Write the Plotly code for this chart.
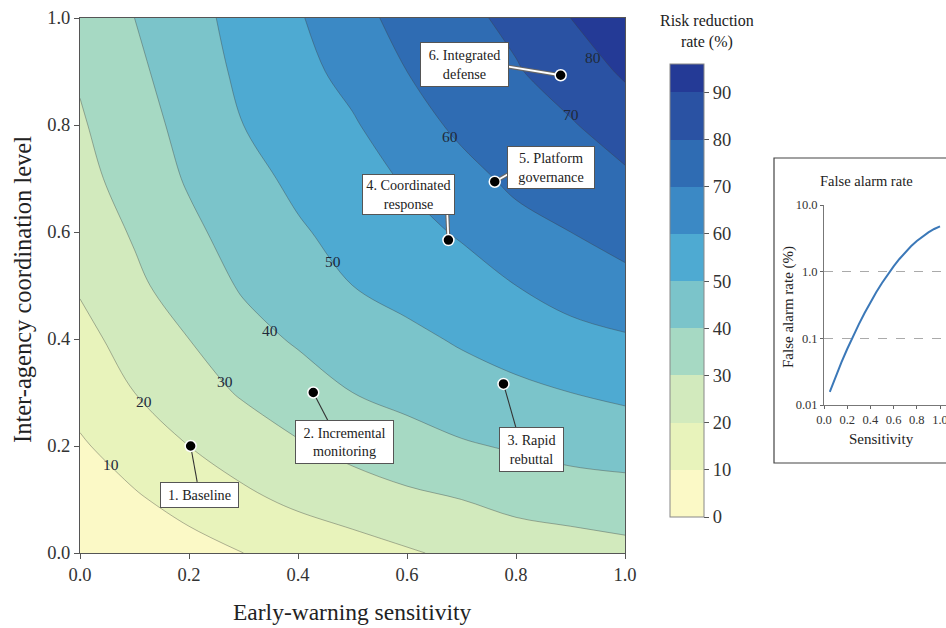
import plotly.graph_objects as go

W, H = 946, 628
FONT = "Liberation Serif"

# ---------------- data ----------------
grid_x = [0.0, 0.1, 0.2, 0.3, 0.4, 0.5, 0.6, 0.7, 0.8, 0.9, 1.0]
grid_y = [0.0, 0.1, 0.2, 0.3, 0.4, 0.5, 0.6, 0.7, 0.8, 0.9, 1.0]
risk_y00 = [1, 4, 7, 10, 13, 16, 19, 22, 24, 25, 27]
risk_y01 = [5, 9, 13, 18, 22, 25, 28, 30, 33, 35, 36]
risk_y02 = [9, 14, 20, 25, 29, 33, 36, 39, 41, 43, 44]
risk_y03 = [13, 20, 26, 31, 36, 40, 43, 46, 48, 50, 52]
risk_y04 = [17, 24, 30, 37, 41, 45, 48, 51, 54, 57, 59]
risk_y05 = [21, 28, 35, 41, 46, 50, 53, 56, 60, 64, 67]
risk_y06 = [24, 31, 38, 44, 49, 53, 57, 61, 67, 70, 74]
risk_y07 = [27, 34, 41, 47, 52, 56, 61, 67, 72, 75, 78]
risk_y08 = [29, 36, 43, 50, 55, 59, 66, 72, 76, 79, 86]
risk_y09 = [31, 38, 45, 52, 57, 63, 70, 75, 79, 86, 91]
risk_y10 = [32, 40, 47, 53, 59, 67, 73, 77, 83, 90, 97]
risk_grid = [risk_y00, risk_y01, risk_y02, risk_y03, risk_y04, risk_y05,
             risk_y06, risk_y07, risk_y08, risk_y09, risk_y10]

contour_label_text = ["10", "20", "30", "40", "50", "60", "70", "80"]
contour_label_x = [0.057, 0.117, 0.266, 0.349, 0.464, 0.679, 0.900, 0.941]
contour_label_y = [0.166, 0.284, 0.321, 0.416, 0.545, 0.779, 0.819, 0.926]

scenario_names = ["1. Baseline", "2. Incremental<br>monitoring", "3. Rapid<br>rebuttal",
                  "4. Coordinated<br>response", "5. Platform<br>governance", "6. Integrated<br>defense"]
scenario_sens = [0.203, 0.428, 0.777, 0.676, 0.761, 0.882]
scenario_coord = [0.200, 0.300, 0.316, 0.585, 0.694, 0.893]
box_x = [0.219, 0.486, 0.828, 0.602, 0.864, 0.706]
box_y = [0.108, 0.207, 0.194, 0.671, 0.720, 0.913]
box_w = [78, 98, 64, 92, 87, 88]
box_h = [27, 45, 46, 42, 44, 46]
leader_end_x = [0.215, 0.455, 0.800, 0.674, 0.787, 0.786]
leader_end_y = [0.133, 0.247, 0.234, 0.632, 0.709, 0.909]
leader_double = [False, False, False, True, True, True]

fa_sens = [0.05, 0.10, 0.15, 0.20, 0.25, 0.30, 0.35, 0.40, 0.45, 0.50,
           0.55, 0.60, 0.65, 0.70, 0.75, 0.80, 0.85, 0.90, 0.95, 1.00]
fa_rate = [0.0158, 0.0269, 0.0437, 0.0692, 0.107, 0.162, 0.240, 0.347, 0.490, 0.676,
           0.912, 1.20, 1.55, 1.95, 2.40, 2.88, 3.39, 3.89, 4.37, 4.79]

band_colors = ["#fbf9c6", "#e8f3bb", "#d2eabd", "#a6d9c3", "#7bc4ca",
               "#4eaad2", "#3b89c5", "#2f6cb3", "#2a52a3", "#243a96"]
cbar_ticks = [0, 10, 20, 30, 40, 50, 60, 70, 80, 90]
cbar_max = 96

# ---------------- figure ----------------
fig = go.Figure()

fig.add_trace(go.Contour(
    x=grid_x, y=grid_y, z=risk_grid,
    colorscale=[[k / 9, c] for k, c in enumerate(band_colors)],
    contours=dict(start=10, end=90, size=10, coloring="fill", showlines=True),
    line=dict(color="rgba(60,60,60,0.55)", width=0.7, smoothing=1.0),
    showscale=False, hoverinfo="skip",
))

# colour bar (stepped scale 0..96)
stepped = []
for k, c in enumerate(band_colors):
    lo = cbar_ticks[k] / cbar_max
    hi = (cbar_ticks[k + 1] / cbar_max) if k + 1 < len(cbar_ticks) else 1.0
    stepped += [[lo, c], [hi, c]]
fig.add_trace(go.Scatter(
    x=[0.5], y=[0.5], mode="markers", hoverinfo="skip", showlegend=False,
    marker=dict(size=0.1, opacity=0, color=[0], cmin=0, cmax=cbar_max, colorscale=stepped,
                showscale=True,
                colorbar=dict(x=670 / W, xanchor="left", y=(H - 517) / H, yanchor="bottom",
                              len=(517 - 64) / H, lenmode="fraction", thickness=34, thicknessmode="pixels",
                              xpad=0, ypad=0, tickvals=cbar_ticks, ticks="outside", ticklen=5,
                              tickcolor="#555", outlinecolor="#888", outlinewidth=1,
                              tickfont=dict(family=FONT, size=18.5, color="#333"))),
))

# leader lines
for i in range(len(scenario_names)):
    lx = [scenario_sens[i], leader_end_x[i]]
    ly = [scenario_coord[i], leader_end_y[i]]
    if leader_double[i]:
        fig.add_trace(go.Scatter(x=lx, y=ly, mode="lines", line=dict(color="#666", width=4),
                                 hoverinfo="skip", showlegend=False))
        fig.add_trace(go.Scatter(x=lx, y=ly, mode="lines", line=dict(color="white", width=1.8),
                                 hoverinfo="skip", showlegend=False))
    else:
        fig.add_trace(go.Scatter(x=lx, y=ly, mode="lines", line=dict(color="#333", width=1.1),
                                 hoverinfo="skip", showlegend=False))

# scenario points
fig.add_trace(go.Scatter(x=scenario_sens, y=scenario_coord, mode="markers",
                         marker=dict(size=11, color="black", line=dict(color="white", width=1.5)),
                         hoverinfo="skip", showlegend=False))

# scenario boxes
for i, name in enumerate(scenario_names):
    fig.add_annotation(x=box_x[i], y=box_y[i], xref="x", yref="y", text=name, showarrow=False,
                       xanchor="center", yanchor="middle",
                       width=box_w[i] - 4, height=box_h[i] - 6, borderpad=1.5, borderwidth=1,
                       bordercolor="#555", bgcolor="white", align="center",
                       font=dict(family=FONT, size=14.2, color="#222"))

# contour labels
for t, lx, ly in zip(contour_label_text, contour_label_x, contour_label_y):
    fig.add_annotation(x=lx, y=ly, xref="x", yref="y", text=t, showarrow=False,
                       xanchor="center", yanchor="middle",
                       font=dict(family=FONT, size=15.5, color="#1f2a3a"))

# inset: false alarm rate
fig.add_trace(go.Scatter(x=fa_sens, y=fa_rate, mode="lines", xaxis="x2", yaxis="y2",
                         line=dict(color="#3b78b8", width=2), hoverinfo="skip", showlegend=False))
fig.add_shape(type="rect", xref="paper", yref="paper", x0=774 / W, x1=1.2,
              y0=(H - 463) / H, y1=(H - 158) / H, line=dict(color="#444", width=1.2),
              fillcolor="rgba(0,0,0,0)", layer="below")


def paper_text(txt, px, py, size, angle=0):
    fig.add_annotation(text=txt, xref="paper", yref="paper", x=px / W, y=(H - py) / H,
                       xanchor="center", yanchor="middle", showarrow=False, textangle=angle,
                       font=dict(family=FONT, size=size, color="#222"))


paper_text("Early-warning sensitivity", 352, 612, 23.5)
paper_text("Inter-agency coordination level", 22, 290, 24.5, -90)
paper_text("Risk reduction<br>rate (%)", 707, 31, 16)
paper_text("False alarm rate", 866, 181, 14.5)
paper_text("False alarm rate (%)", 789, 307, 15, -90)
paper_text("Sensitivity", 881, 439, 15)

tick01 = [0, 0.2, 0.4, 0.6, 0.8, 1.0]
tick01_txt = ["0.0", "0.2", "0.4", "0.6", "0.8", "1.0"]
fig.update_layout(
    width=W, height=H, margin=dict(l=0, r=0, t=0, b=0, pad=0, autoexpand=False),
    paper_bgcolor="white", plot_bgcolor="white", showlegend=False,
    xaxis=dict(domain=[80 / W, 625 / W], range=[0, 1], showgrid=False, zeroline=False,
               tickvals=tick01, ticktext=tick01_txt, ticks="outside", ticklen=5, tickcolor="#555",
               linecolor="#555", mirror=True, tickfont=dict(family=FONT, size=18.5, color="#333")),
    yaxis=dict(domain=[(H - 553) / H, (H - 18) / H], range=[0, 1], showgrid=False, zeroline=False,
               tickvals=tick01, ticktext=tick01_txt, ticks="outside", ticklen=5, tickcolor="#555",
               linecolor="#555", mirror=True, tickfont=dict(family=FONT, size=18.5, color="#333")),
    xaxis2=dict(domain=[824 / W, 1.0], range=[0, 122 / 116], anchor="y2", showgrid=False, zeroline=False,
                tickvals=tick01, ticktext=tick01_txt, ticks="outside", ticklen=3, tickcolor="#666",
                ticklabeloverflow="allow",
                showline=True, linecolor="#777", tickfont=dict(family=FONT, size=12.5, color="#333")),
    yaxis2=dict(domain=[(H - 405) / H, (H - 205) / H], type="log", range=[-2, 1], anchor="x2",
                tickvals=[0.01, 0.1, 1, 10], ticktext=["0.01", "0.1", "1.0", "10.0"],
                ticks="outside", ticklen=3, tickcolor="#666", showline=True, linecolor="#777",
                showgrid=True, gridcolor="#aaa", griddash="dash", gridwidth=1, zeroline=False,
                tickfont=dict(family=FONT, size=12.5, color="#333")),
)
fig.write_html("out.html")
